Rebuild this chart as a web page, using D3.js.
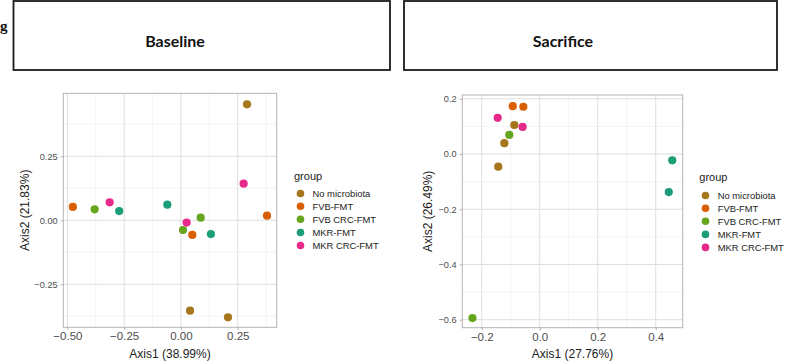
<!DOCTYPE html>
<html><head><meta charset="utf-8">
<script src="https://cdn.jsdelivr.net/npm/d3@7"></script>
<style>html,body{margin:0;padding:0;background:#fff;}svg{display:block;}</style>
</head><body>
<svg id="chart" width="790" height="362"></svg>
<script>
const groups = ["No microbiota", "FVB-FMT", "FVB CRC-FMT", "MKR-FMT", "MKR CRC-FMT"];
const groupColors = ["#A6761D", "#D95F02", "#66A61E", "#1B9E77", "#E7298A"];
const panelTitles = ["Baseline", "Sacrifice"];
const axisTitlesX = ["Axis1 (38.99%)", "Axis1 (27.76%)"];
const axisTitlesY = ["Axis2 (21.83%)", "Axis2 (26.49%)"];

// Baseline points
const baseGroup = ["No microbiota","No microbiota","No microbiota","FVB-FMT","FVB-FMT","FVB-FMT","FVB CRC-FMT","FVB CRC-FMT","FVB CRC-FMT","MKR-FMT","MKR-FMT","MKR-FMT","MKR CRC-FMT","MKR CRC-FMT","MKR CRC-FMT"];
const baseAxis1 = [0.291, 0.040, 0.207, -0.476, 0.379, 0.050, -0.380, 0.087, 0.009, -0.272, -0.060, 0.132, -0.314, 0.276, 0.025];
const baseAxis2 = [0.453, -0.353, -0.379, 0.052, 0.018, -0.057, 0.043, 0.010, -0.038, 0.036, 0.061, -0.054, 0.070, 0.143, -0.009];
const baseXTicks = [-0.50, -0.25, 0.00, 0.25];
const baseYTicks = [-0.25, 0.00, 0.25];

// Sacrifice points
const sacGroup = ["No microbiota","No microbiota","No microbiota","FVB-FMT","FVB-FMT","FVB CRC-FMT","FVB CRC-FMT","MKR-FMT","MKR-FMT","MKR CRC-FMT","MKR CRC-FMT"];
const sacAxis1 = [-0.0875, -0.122, -0.143, -0.093, -0.0565, -0.105, -0.232, 0.457, 0.445, -0.145, -0.059];
const sacAxis2 = [0.105, 0.039, -0.046, 0.173, 0.171, 0.069, -0.594, -0.023, -0.138, 0.131, 0.098];
const sacXTicks = [-0.2, 0.0, 0.2, 0.4];
const sacYTicks = [-0.6, -0.4, -0.2, 0.0, 0.2];

const svg = d3.select("#chart");
const color = d3.scaleOrdinal().domain(groups).range(groupColors);

// header
svg.append("text").attr("x", 0).attr("y", 31).text("g")
  .attr("font-family", "Liberation Serif, serif").attr("font-weight", "bold").attr("font-size", 15).attr("fill", "#111");

const boxes = [{x0: 13.5, x1: 390, tx: 175}, {x0: 404, x1: 777, tx: 563}];
boxes.forEach((b, i) => {
  svg.append("rect").attr("x", b.x0).attr("y", 1).attr("width", b.x1 - b.x0).attr("height", 69)
    .attr("fill", "#fff").attr("stroke", "#1a1a1a").attr("stroke-width", 1.8);
  svg.append("text").attr("x", b.tx).attr("y", 47).attr("text-anchor", "middle")
    .attr("font-family", "Lato, sans-serif").attr("font-weight", "bold").attr("font-size", 16).attr("fill", "#111")
    .text(panelTitles[i]);
});

function fmt2(v){ return (v < 0 ? "\u2212" : "") + Math.abs(v).toFixed(2); }
function fmt1(v){ return (v < 0 ? "\u2212" : "") + Math.abs(v).toFixed(1); }

const panels = [
  { L: 63.3, R: 276.7, T: 93.3, B: 327.3, xd: [-0.518, 0.4216], yd: [-0.418, 0.496],
    xt: baseXTicks, yt: baseYTicks, fmt: fmt2, xminor: [-0.375, -0.125, 0.125, 0.375], yminor: [-0.375, -0.125, 0.125, 0.375],
    g: baseGroup, a1: baseAxis1, a2: baseAxis2, ytx: 25, leg: {tx: 294, ty: 180, kx: 300.5, ky: [193.5, 206.3, 219.3, 232.5, 245.5], lx: 312.5} },
  { L: 462.3, R: 682.7, T: 95, B: 327.7, xd: [-0.267, 0.493], yd: [-0.629, 0.2136],
    xt: sacXTicks, yt: sacYTicks, fmt: fmt1, xminor: [-0.1, 0.1, 0.3], yminor: [-0.5, -0.3, -0.1, 0.1],
    g: sacGroup, a1: sacAxis1, a2: sacAxis2, ytx: 428.3, leg: {tx: 699.3, ty: 181, kx: 705.5, ky: [195.5, 208.3, 221.3, 234.4, 247.4], lx: 717.7} }
];

panels.forEach((p, i) => {
  const x = d3.scaleLinear().domain(p.xd).range([p.L, p.R]);
  const y = d3.scaleLinear().domain(p.yd).range([p.B, p.T]);
  const g = svg.append("g");
  // minor grid
  g.selectAll(".mx").data(p.xminor).join("line").attr("x1", d => x(d)).attr("x2", d => x(d))
    .attr("y1", p.T).attr("y2", p.B).attr("stroke", "#EDEDED").attr("stroke-width", 0.6);
  g.selectAll(".my").data(p.yminor).join("line").attr("y1", d => y(d)).attr("y2", d => y(d))
    .attr("x1", p.L).attr("x2", p.R).attr("stroke", "#EDEDED").attr("stroke-width", 0.6);
  // major grid
  g.append("g").selectAll("line").data(p.xt).join("line").attr("x1", d => x(d)).attr("x2", d => x(d))
    .attr("y1", p.T).attr("y2", p.B).attr("stroke", "#DEDEDE").attr("stroke-width", 1);
  g.append("g").selectAll("line").data(p.yt).join("line").attr("y1", d => y(d)).attr("y2", d => y(d))
    .attr("x1", p.L).attr("x2", p.R).attr("stroke", "#DEDEDE").attr("stroke-width", 1);
  // axes
  const xAxis = g.append("g").attr("transform", `translate(0,${p.B})`)
    .call(d3.axisBottom(x).tickValues(p.xt).tickFormat(p.fmt).tickSize(2.7).tickPadding(2));
  xAxis.select(".domain").remove();
  xAxis.selectAll("line").attr("stroke", "#B3B3B3");
  xAxis.selectAll("text").attr("font-family", "Liberation Sans, Arial, sans-serif").attr("font-size", 11.5).attr("fill", "#4D4D4D");
  const yAxis = g.append("g").attr("transform", `translate(${p.L},0)`)
    .call(d3.axisLeft(y).tickValues(p.yt).tickFormat(p.fmt).tickSize(2.7).tickPadding(3));
  yAxis.select(".domain").remove();
  yAxis.selectAll("line").attr("stroke", "#B3B3B3");
  yAxis.selectAll("text").attr("font-family", "Liberation Sans, Arial, sans-serif").attr("font-size", 9.2).attr("fill", "#4D4D4D");
  // border
  g.append("rect").attr("x", p.L).attr("y", p.T).attr("width", p.R - p.L).attr("height", p.B - p.T)
    .attr("fill", "none").attr("stroke", "#B3B3B3").attr("stroke-width", 1);
  // points
  const pts = p.a1.map((v, k) => ({ a1: v, a2: p.a2[k], grp: p.g[k] }));
  g.append("g").selectAll("circle").data(pts).join("circle")
    .attr("cx", d => x(d.a1)).attr("cy", d => y(d.a2)).attr("r", 4.1).attr("fill", d => color(d.grp));
  // axis titles
  g.append("text").attr("x", (p.L + p.R) / 2).attr("y", 358).attr("text-anchor", "middle")
    .attr("font-family", "Liberation Sans, Arial, sans-serif").attr("font-size", 12).attr("fill", "#222").text(axisTitlesX[i]);
  g.append("text").attr("transform", `translate(${p.ytx + 4},${(p.T + p.B) / 2}) rotate(-90)`).attr("text-anchor", "middle")
    .attr("font-family", "Liberation Sans, Arial, sans-serif").attr("font-size", 12).attr("fill", "#222").text(axisTitlesY[i]);
  // legend
  const lg = svg.append("g");
  lg.append("text").attr("x", p.leg.tx).attr("y", p.leg.ty).text("group")
    .attr("font-family", "Liberation Sans, Arial, sans-serif").attr("font-size", 11).attr("fill", "#222");
  lg.selectAll("circle").data(groups).join("circle").attr("cx", p.leg.kx).attr("cy", (d, k) => p.leg.ky[k])
    .attr("r", 3.8).attr("fill", d => color(d));
  lg.selectAll(".lab").data(groups).join("text").attr("x", p.leg.lx).attr("y", (d, k) => p.leg.ky[k] + 3.4)
    .attr("font-family", "Liberation Sans, Arial, sans-serif").attr("font-size", 9.4).attr("fill", "#222").text(d => d);
});
</script>
</body></html>
